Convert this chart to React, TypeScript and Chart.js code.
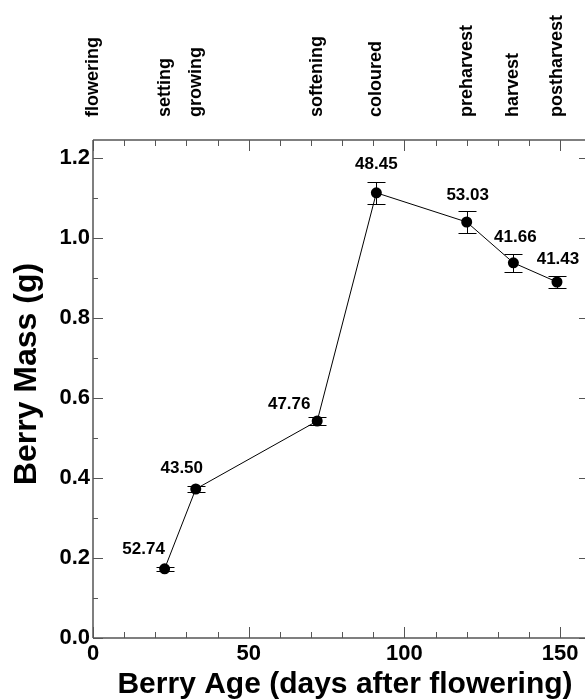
import React, { useEffect, useRef } from 'react';
import { Chart, registerables } from 'chart.js';

Chart.register(...registerables);

// ---- data ----
const ageDays = [23, 33, 72, 91, 120, 135, 149];
const berryMass = [0.173, 0.3725, 0.5425, 1.113, 1.04, 0.938, 0.89];
const massError = [0.005, 0.008, 0.01, 0.028, 0.028, 0.023, 0.014];
const pointLabels = [52.74, 43.5, 47.76, 48.45, 53.03, 41.66, 41.43];
const stageNames = ['flowering', 'setting', 'growing', 'softening', 'coloured', 'preharvest', 'harvest', 'postharvest'];
const stageDays = [0, 23, 33, 72, 91, 120, 135, 149];
const xTickValues = [0, 50, 100, 150];
const yTickValues = [0, 0.2, 0.4, 0.6, 0.8, 1.0, 1.2];
const xTitle = 'Berry Age (days after flowering)';
const yTitle = 'Berry Mass (g)';

// ---- styling ----
const FONT = "'Liberation Sans', Arial, Helvetica, sans-serif";
const labelOffsets = [
  [-21, -19],
  [-14, -21],
  [-28, -17],
  [0, -28],
  [1, -27],
  [2, -25],
  [1, -23],
];

const decorPlugin = {
  id: 'decor',
  beforeDatasetsDraw(chart: any) {
    const { ctx, scales } = chart;
    const x = scales.x;
    const y = scales.y;
    ctx.save();
    ctx.strokeStyle = '#000';
    ctx.lineWidth = 1;
    ageDays.forEach((d, i) => {
      const px = Math.round(x.getPixelForValue(d)) + 0.5;
      const top = Math.round(y.getPixelForValue(berryMass[i] + massError[i])) + 0.5;
      const bot = Math.round(y.getPixelForValue(berryMass[i] - massError[i])) + 0.5;
      ctx.beginPath();
      ctx.moveTo(px, top);
      ctx.lineTo(px, bot);
      ctx.moveTo(px - 9, top);
      ctx.lineTo(px + 9, top);
      ctx.moveTo(px - 9, bot);
      ctx.lineTo(px + 9, bot);
      ctx.stroke();
    });
    ctx.restore();
  },
  afterDraw(chart: any) {
    const { ctx, chartArea: a, scales } = chart;
    const x = scales.x;
    const y = scales.y;
    ctx.save();
    // axis frame (right side lies on the canvas edge)
    ctx.strokeStyle = '#555';
    ctx.lineWidth = 1.5;
    ctx.beginPath();
    ctx.moveTo(a.left, a.top);
    ctx.lineTo(a.right, a.top);
    ctx.moveTo(a.left, a.bottom);
    ctx.lineTo(a.right, a.bottom);
    ctx.moveTo(a.left, a.top);
    ctx.lineTo(a.left, a.bottom);
    ctx.stroke();

    // x ticks (bottom + top), inward
    ctx.lineWidth = 1;
    ctx.beginPath();
    for (let v = 0; v <= x.max + 1e-9; v += 10) {
      const px = Math.round(x.getPixelForValue(v)) + 0.5;
      const major = Math.abs(v % 50) < 1e-9;
      const len = major ? 11 : 6;
      ctx.moveTo(px, a.bottom);
      ctx.lineTo(px, a.bottom - len);
      ctx.moveTo(px, a.top);
      ctx.lineTo(px, a.top + len);
    }
    // y ticks (left + right), inward
    for (let k = 0; k <= 12; k++) {
      const v = k / 10;
      const py = Math.round(y.getPixelForValue(v)) + 0.5;
      const major = k % 2 === 0;
      ctx.moveTo(a.left, py);
      ctx.lineTo(a.left + (major ? 10 : 5), py);
      if (major) {
        ctx.moveTo(a.right, py);
        ctx.lineTo(a.right - 6, py);
      }
    }
    ctx.stroke();

    ctx.fillStyle = '#000';
    // point value labels
    ctx.font = `bold 17px ${FONT}`;
    ctx.textAlign = 'center';
    ctx.textBaseline = 'middle';
    ageDays.forEach((d, i) => {
      const px = x.getPixelForValue(d);
      const py = y.getPixelForValue(berryMass[i]);
      ctx.fillText(pointLabels[i].toFixed(2), px + labelOffsets[i][0], py + labelOffsets[i][1]);
    });

    // stage labels on top
    ctx.font = `bold 18px ${FONT}`;
    stageNames.forEach((name, i) => {
      const px = x.getPixelForValue(stageDays[i]);
      ctx.save();
      ctx.translate(px, a.top - 23);
      ctx.rotate(-Math.PI / 2);
      ctx.textAlign = 'left';
      ctx.textBaseline = 'middle';
      ctx.fillText(name, 0, 0);
      ctx.restore();
    });

    // axis titles
    ctx.font = `bold 30px ${FONT}`;
    ctx.textAlign = 'center';
    ctx.textBaseline = 'alphabetic';
    ctx.fillText(xTitle, (a.left + a.right) / 2 + 6, 693);

    ctx.save();
    ctx.font = `bold 32px ${FONT}`;
    ctx.translate(27, 374);
    ctx.rotate(-Math.PI / 2);
    ctx.textAlign = 'center';
    ctx.textBaseline = 'middle';
    ctx.fillText(yTitle, 0, 0);
    ctx.restore();

    ctx.restore();
  },
};

export default function App() {
  const canvasRef = useRef<HTMLCanvasElement | null>(null);

  useEffect(() => {
    if (!canvasRef.current) return;
    const chart = new Chart(canvasRef.current, {
      type: 'line',
      data: {
        datasets: [
          {
            data: ageDays.map((d, i) => ({ x: d, y: berryMass[i] })),
            borderColor: '#000',
            borderWidth: 1,
            pointRadius: 5.5,
            pointBackgroundColor: '#000',
            pointBorderWidth: 0,
            tension: 0,
            fill: false,
          },
        ],
      },
      options: {
        animation: false,
        responsive: false,
        devicePixelRatio: 1,
        layout: { autoPadding: false, padding: { top: 140, left: 0, right: 0, bottom: 0 } },
        plugins: {
          legend: { display: false },
          tooltip: { enabled: false },
        },
        scales: {
          x: {
            type: 'linear',
            min: 0,
            max: 158,
            grid: { display: false, drawTicks: false },
            border: { display: false },
            afterBuildTicks: (scale: any) => {
              scale.ticks = xTickValues.map((v) => ({ value: v }));
            },
            afterFit: (scale: any) => {
              scale.height = 62;
              scale.paddingLeft = 0;
              scale.paddingRight = 0;
            },
            ticks: {
              autoSkip: false,
              maxRotation: 0,
              padding: 3,
              color: '#000',
              font: { family: FONT, size: 22, weight: 'bold' },
              callback: (v: any) => String(v),
            },
          },
          y: {
            type: 'linear',
            min: 0,
            max: 1.245,
            grid: { display: false, drawTicks: false },
            border: { display: false },
            afterBuildTicks: (scale: any) => {
              scale.ticks = yTickValues.map((v) => ({ value: v }));
            },
            afterFit: (scale: any) => {
              scale.width = 93;
              scale.paddingTop = 0;
              scale.paddingBottom = 0;
            },
            ticks: {
              padding: 3,
              color: '#000',
              font: { family: FONT, size: 22, weight: 'bold' },
              callback: (v: any) => Number(v).toFixed(1),
            },
          },
        },
      },
      plugins: [decorPlugin],
    } as any);
    return () => chart.destroy();
  }, []);

  return (
    <div style={{ position: 'absolute', left: 0, top: 0, width: 585, height: 700 }}>
      <canvas ref={canvasRef} width={585} height={700} />
    </div>
  );
}
